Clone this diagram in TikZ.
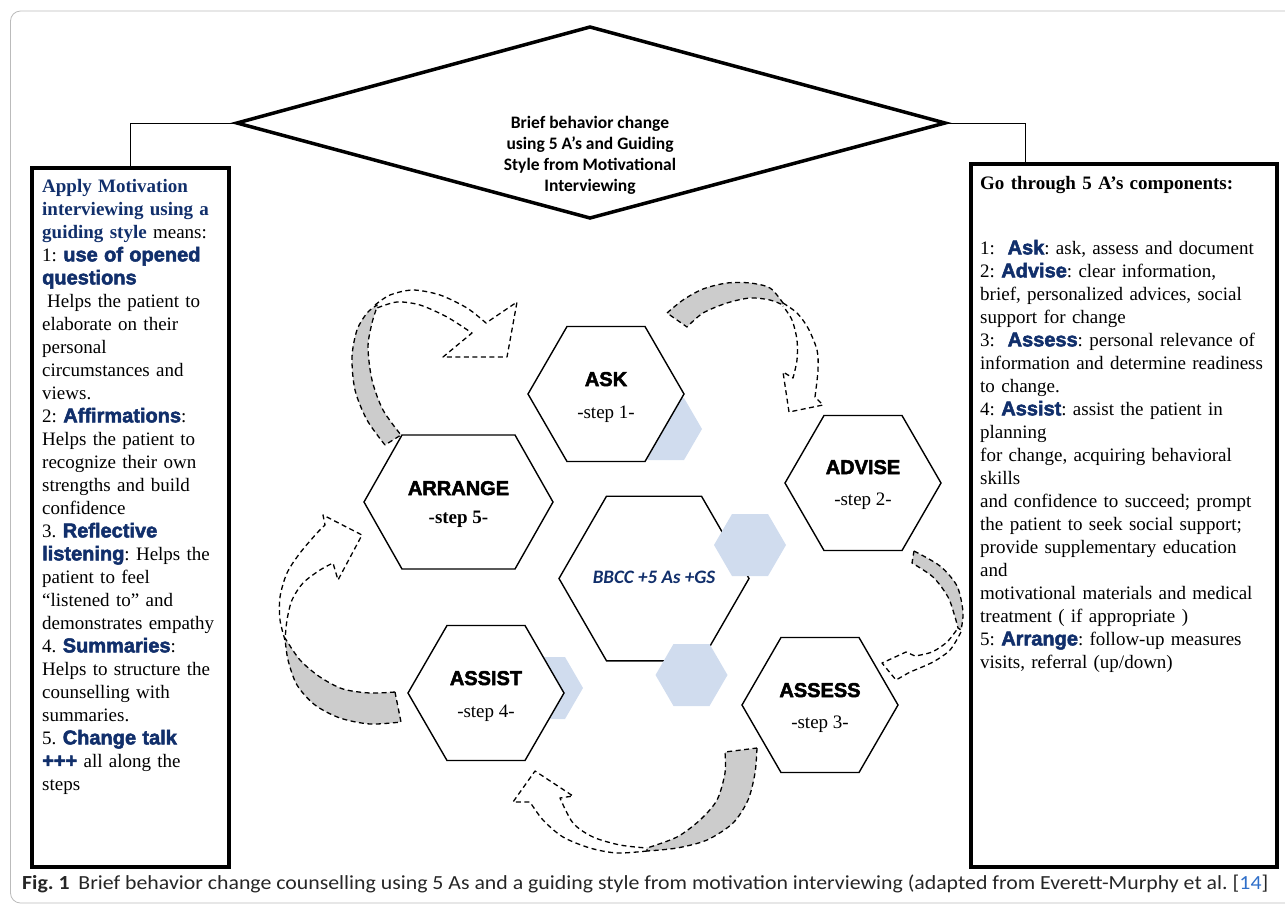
\documentclass[tikz,border=0pt]{standalone}
\usepackage{fontspec}
\usepackage{graphicx}
\setmainfont{Liberation Serif}
\newfontfamily\blk{Liberation Sans}[BoldFeatures={FakeBold=2.5}]
\newfontfamily\carl{Carlito}
\usetikzlibrary{calc}
\frenchspacing
\definecolor{navy}{HTML}{112F6B}
\definecolor{hexblue}{HTML}{D0DCEE}
\definecolor{bandgray}{HTML}{CCCCCC}
\definecolor{framegray}{HTML}{BBBBBB}
\definecolor{linkblue}{HTML}{2F6FC9}
\newcommand{\hexag}[6]{\path[#1] (#2-#4,#3) -- (#2-#5,#3-#6) -- (#2+#5,#3-#6) -- (#2+#4,#3) -- (#2+#5,#3+#6) -- (#2-#5,#3+#6) -- cycle;}
\newcommand{\hvy}[1]{{\blk\bfseries\fontsize{20}{23}\selectfont\color{navy}#1}}
\tikzset{
  hexline/.style={draw=black, fill=white, line width=1.4pt},
  bluehex/.style={fill=hexblue},
  hexttl/.style={font=\blk\bfseries\fontsize{20}{24}\selectfont, anchor=base, inner sep=0},
  hexstep/.style={font=\fontsize{19}{23}\selectfont, anchor=base, inner sep=0},
  dline/.style={dash pattern=on 5pt off 3.5pt, line width=1.3pt, line join=round},
  bandfill/.style={dline, draw=black, fill=bandgray},
  boxstyle/.style={draw=black, line width=3.5pt, anchor=north west, inner sep=0},
  conn/.style={line width=1pt}
}
\begin{document}
\begin{tikzpicture}[x=1pt,y=-1pt]
\useasboundingbox (0,0) rectangle (1285,906);
% outer frame
\draw[framegray, line width=0.8pt, rounded corners=10pt] (10.5,11) rectangle (1300,903);

% diamond
\coordinate (dl) at (237,123);
\coordinate (dt) at (590,27);
\coordinate (dr) at (945,123);
\coordinate (db) at (590,218);
\draw[line width=3.5pt] (dl) -- (dt) -- (dr) -- (db) -- cycle;
\node[font=\carl\bfseries\fontsize{17.5}{21}\selectfont, align=center, inner sep=0] (title) at (590,155.5)
  {Brief behavior change\\using 5 A’s and Guiding\\Style from Motivational\\Interviewing};

% side boxes
\node[boxstyle, minimum width=197pt, minimum height=699pt] (lbox) at (30,166) {};
\node[boxstyle, minimum width=306pt, minimum height=703pt] (rbox) at (969,162) {};
\coordinate (rj) at (1025,162);
\draw[conn] (dl) -| (lbox.north);
\draw[conn] (dr) -| (rj);

% left text
\node[anchor=north west, inner sep=0, text width=200pt, align=left, font=\fontsize{19}{23}\selectfont] (ltext) at (42,179) {%
{\bfseries\color{navy}Apply Motivation}\\
{\bfseries\color{navy}interviewing using a}\\
{\bfseries\color{navy}guiding style} means:\\
1: \hvy{use of opened}\\
\hvy{questions}\\
\hspace*{5pt}Helps the patient to\\
elaborate on their\\
personal\\
circumstances and\\
views.\\
2: \hvy{Affirmations}:\\
Helps the patient to\\
recognize their own\\
strengths and build\\
confidence\\
3. \hvy{Reflective}\\
\hvy{listening}: Helps the\\
patient to feel\\
“listened to” and\\
demonstrates empathy\\
4. \hvy{Summaries}:\\
Helps to structure the\\
counselling with\\
summaries.\\
5. \hvy{Change talk}\\
\hvy{+++} all along the\\
steps};

% right text
\node[anchor=north west, inner sep=0, text width=300pt, align=left, font=\fontsize{19}{23}\selectfont] (rtext) at (980,176.5) {%
{\bfseries Go through 5 A’s components:}\\[41.5pt]
1:\ \ \hvy{Ask}: ask, assess and document\\
2: \hvy{Advise}: clear information,\\
brief, personalized advices, social\\
support for change\\
3:\ \ \hvy{Assess}: personal relevance of\\
information and determine readiness\\
to change.\\
4: \hvy{Assist}: assist the patient in\\
planning\\
for change, acquiring behavioral\\
skills\\
and confidence to succeed; prompt\\
the patient to seek social support;\\
provide supplementary education\\
and\\
motivational materials and medical\\
treatment ( if appropriate )\\
5: \hvy{Arrange}: follow-up measures\\
visits, referral (up/down)};

% blue hexagons behind
\hexag{bluehex}{666}{429}{36}{18}{31}
\hexag{bluehex}{547}{688}{36}{18}{31}

% main hexagons
\hexag{hexline}{606}{394}{78}{39}{67.5}
\hexag{hexline}{863}{483}{78}{39}{67.5}
\hexag{hexline}{458.5}{502}{94.5}{56.5}{67}
\hexag{hexline}{486}{693}{78}{39}{67.5}
\hexag{hexline}{820}{705}{78}{39}{67.5}
\hexag{hexline}{654}{578.5}{95}{47.5}{82.3}

% blue hexagons on top
\hexag{bluehex}{750}{545}{36}{18}{31}
\hexag{bluehex}{691.5}{675}{36}{18}{31}

% hexagon labels
\node[hexttl] (ask) at (606,386) {ASK};
\node[hexstep] (asks) at (606,418) {-step 1-};
\node[hexttl] (advise) at (863,474) {ADVISE};
\node[hexstep] (advises) at (863,505) {-step 2-};
\node[hexttl] (arrange) at (458.5,495) {ARRANGE};
\node[hexstep] (arranges) at (458.5,523) {\textbf{-step 5-}};
\node[hexttl] (assist) at (486,685) {ASSIST};
\node[hexstep] (assists) at (486,717) {-step 4-};
\node[hexttl] (assess) at (820,697) {ASSESS};
\node[hexstep] (assesss) at (820,728) {-step 3-};
\node[font=\carl\bfseries\itshape\fontsize{19}{23}\selectfont, text=navy, anchor=base, inner sep=0] (bbcc) at (654,583) {BBCC +5 As +GS};

% curved arrow: ARRANGE -> ASK
\path[bandfill] plot[smooth] coordinates {(385,445) (367,420) (355,390) (352,357) (357,330) (367,313) (377,305)}
  -- plot[smooth] coordinates {(377,307) (372,323) (368,347) (372,380) (383,410) (401,435)} -- cycle;
\draw[dline] plot[smooth] coordinates {(375,305) (390,295) (413,290) (440,295) (467,308) (486,323)}
  -- (517,302) -- (507,357) -- (443,357) -- (472,333)
  -- plot[smooth] coordinates {(472,333) (447,317) (420,305) (397,302) (377,308)};

% curved arrow: ASK -> ADVISE
\path[bandfill] plot[smooth] coordinates {(667,313) (683,300) (703,289) (727,283) (750,283) (770,288) (783,303)}
  -- plot[smooth] coordinates {(783,305) (770,300) (750,298) (727,303) (703,313) (687,327)} -- cycle;
\draw[dline] plot[smooth] coordinates {(783,303) (797,313) (808,328) (817,350) (818,370) (815,397)}
  -- (823,405) -- (789,412) -- (783,372) -- (793,378)
  -- plot[smooth] coordinates {(793,378) (797,360) (797,340) (792,320) (783,306)};

% curved arrow: ADVISE -> ASSESS
\path[bandfill] plot[smooth] coordinates {(914,551) (940,566) (957,586) (963,612) (961,630)}
  -- plot[smooth] coordinates {(958,628) (955,617) (948,597) (933,577) (912,563)} -- cycle;
\draw[dline] plot[smooth] coordinates {(961,632) (950,650) (933,662) (910,672)}
  -- (896,680) -- (882,663) -- (906,652) -- (915,656)
  -- plot[smooth] coordinates {(915,656) (932,652) (947,642) (958,628)};

% curved arrow: ASSESS -> ASSIST
\path[bandfill] plot[smooth] coordinates {(757,748) (755,773) (748,800) (733,823) (707,840) (677,848) (647,851)}
  -- plot[smooth] coordinates {(647,848) (677,837) (700,820) (717,800) (725,773) (725,752)} -- cycle;
\draw[dline] plot[smooth] coordinates {(647,851) (617,853) (590,848) (563,837) (543,820) (530,802)}
  -- (513,802) -- (535,771) -- (573,796) -- (560,798)
  -- plot[smooth] coordinates {(560,798) (573,823) (593,837) (620,845) (647,848)};

% curved arrow: ASSIST -> ARRANGE
\path[bandfill] plot[smooth] coordinates {(395,692) (370,693) (343,689) (320,677) (300,660) (285,638)}
  -- plot[smooth] coordinates {(285,638) (288,660) (297,685) (315,705) (340,718) (370,724) (401,722)} -- cycle;
\draw[dline] plot[smooth] coordinates {(285,640) (280,620) (280,597) (287,573) (300,553) (317,533) (325,525)}
  -- (323,515) -- (362,535) -- (338,580) -- (333,563)
  -- plot[smooth] coordinates {(333,563) (320,570) (303,583) (292,600) (287,620) (285,640)};

% caption
\node[anchor=base west, inner sep=0, font=\carl\fontsize{20}{24}\selectfont, text=black!85] (cap) at (22,889)
  {\resizebox{1246pt}{\height}{\textbf{Fig. 1}\hspace{8pt}Brief behavior change counselling using 5 As and a guiding style from motivation interviewing (adapted from Everett-Murphy et al. [\textcolor{linkblue}{14}]}};
\end{tikzpicture}
\end{document}
